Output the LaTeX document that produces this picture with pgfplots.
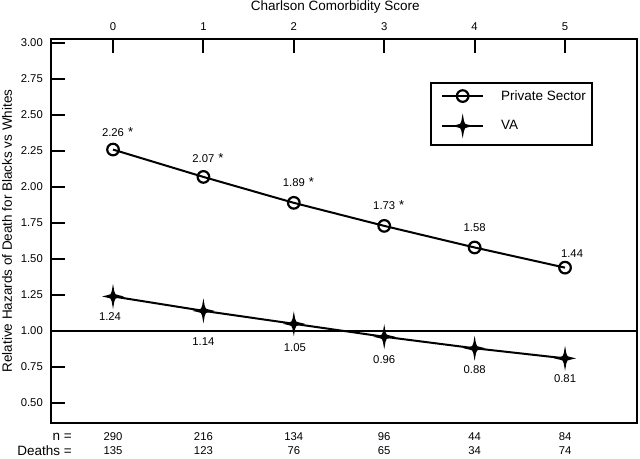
\documentclass[border=0pt]{standalone}
\usepackage{pgfplots}
\usepackage{pgfplotstable}
\pgfplotsset{compat=1.18}
\usepackage{fontspec}
\setmainfont{Liberation Sans}
\newcommand{\fs}{\fontsize{11.3}{13}\selectfont}
\newcommand{\fb}{\fontsize{13.5}{16}\selectfont}
\newcommand{\sig}{\rlap{\hspace{4pt}\fontsize{13}{13}\selectfont *}}
\pgfdeclareplotmark{vastar}{%
  \pgfpathmoveto{\pgfqpoint{0pt}{12.5pt}}%
  \pgfpathlineto{\pgfqpoint{1.3pt}{5pt}}%
  \pgfpathlineto{\pgfqpoint{2.5pt}{2.2pt}}%
  \pgfpathlineto{\pgfqpoint{5pt}{1.4pt}}%
  \pgfpathlineto{\pgfqpoint{11pt}{0pt}}%
  \pgfpathlineto{\pgfqpoint{5pt}{-1.4pt}}%
  \pgfpathlineto{\pgfqpoint{2.5pt}{-2.2pt}}%
  \pgfpathlineto{\pgfqpoint{1.3pt}{-5pt}}%
  \pgfpathlineto{\pgfqpoint{0pt}{-12.5pt}}%
  \pgfpathlineto{\pgfqpoint{-1.3pt}{-5pt}}%
  \pgfpathlineto{\pgfqpoint{-2.5pt}{-2.2pt}}%
  \pgfpathlineto{\pgfqpoint{-5pt}{-1.4pt}}%
  \pgfpathlineto{\pgfqpoint{-11pt}{0pt}}%
  \pgfpathlineto{\pgfqpoint{-5pt}{1.4pt}}%
  \pgfpathlineto{\pgfqpoint{-2.5pt}{2.2pt}}%
  \pgfpathlineto{\pgfqpoint{-1.3pt}{5pt}}%
  \pgfpathclose
  \pgfusepathqfill}
% x, value, label offsets (pt) and label text
\pgfplotstableread{
x y yo xo label
0 2.26 17 0 {2.26\sig}
1 2.07 19 0 {2.07\sig}
2 1.89 21 0 {1.89\sig}
3 1.73 21 0 {1.73\sig}
4 1.58 20 0 {1.58}
5 1.44 14 7 {1.44}
}\private
\pgfplotstableread{
x y yo xo label
0 1.24 -20 -3 {1.24}
1 1.14 -31 0 {1.14}
2 1.05 -24 1 {1.05}
3 0.96 -23 0 {0.96}
4 0.88 -21 0 {0.88}
5 0.81 -20 0 {0.81}
}\va
\begin{document}
\begin{tikzpicture}
\begin{axis}[
  scale only axis, width=586pt, height=384pt,
  xmin=-0.686, xmax=5.796, ymin=0.361, ymax=3.028,
  xtick={0,1,2,3,4,5}, xticklabels={0,1,2,3,4,5},
  ytick={0.5,0.75,1,1.25,1.5,1.75,2,2.25,2.5,2.75,3},
  yticklabels={0.50,0.75,1.00,1.25,1.50,1.75,2.00,2.25,2.50,2.75,3.00},
  xtick pos=upper, xticklabel pos=upper, ytick pos=left,
  tick align=inside, major tick length=14pt,
  axis line style={line width=2pt},
  every tick/.style={black, line width=2pt},
  xticklabel style={font=\fs, inner sep=0pt, anchor=south, yshift=8pt},
  yticklabel style={font=\fs, inner sep=0pt, anchor=east, xshift=-8pt},
  clip=false,
  legend style={at={(rel axis cs:0.6655,0.867)}, anchor=north west, draw=none,
    fill=none, font=\fb, inner xsep=0pt, inner ysep=0pt,
    row sep=11.6pt, column sep=17pt,
    nodes={inner sep=0pt}, cells={anchor=west}},
  legend image code/.code={\draw[mark repeat=2,mark phase=2,#1] plot coordinates {(0pt,0pt) (20.5pt,0pt) (41pt,0pt)};},
]
\draw[line width=2pt] (axis cs:-0.686,1) -- (axis cs:5.796,1);
% legend frame
\draw[line width=1.7pt] (rel axis cs:0.6485,0.724) rectangle (rel axis cs:0.9232,0.8854);
\addplot[black, line width=2pt, mark=o, mark size=5.8pt,
  mark options={fill=white, solid, line width=2.2pt},
  point meta=explicit symbolic, nodes near coords,
  visualization depends on={\thisrow{yo}\as\yo},
  visualization depends on={\thisrow{xo}\as\xo},
  every node near coord/.append style={font=\fs, inner sep=0pt, anchor=center,
    yshift=\yo pt, xshift=\xo pt}]
  table[x=x, y=y, meta=label] {\private};
\addlegendentry{Private Sector}
\addplot[black, line width=2pt, mark=vastar,
  mark options={fill=black, solid},
  point meta=explicit symbolic, nodes near coords,
  visualization depends on={\thisrow{yo}\as\yo},
  visualization depends on={\thisrow{xo}\as\xo},
  every node near coord/.append style={font=\fs, inner sep=0pt, anchor=center,
    yshift=\yo pt, xshift=\xo pt}]
  table[x=x, y=y, meta=label] {\va};
\addlegendentry{VA}
% sample size rows
\node[font=\fb, anchor=east, inner sep=0pt] at (axis cs:-0.4535,0.264) {n =};
\node[font=\fb, anchor=east, inner sep=0pt] at (axis cs:-0.4535,0.167) {Deaths =};
\node[font=\fs] at (axis cs:0,0.264) {290};
\node[font=\fs] at (axis cs:1,0.264) {216};
\node[font=\fs] at (axis cs:2,0.264) {134};
\node[font=\fs] at (axis cs:3,0.264) {96};
\node[font=\fs] at (axis cs:4,0.264) {44};
\node[font=\fs] at (axis cs:5,0.264) {84};
\node[font=\fs] at (axis cs:0,0.167) {135};
\node[font=\fs] at (axis cs:1,0.167) {123};
\node[font=\fs] at (axis cs:2,0.167) {76};
\node[font=\fs] at (axis cs:3,0.167) {65};
\node[font=\fs] at (axis cs:4,0.167) {34};
\node[font=\fs] at (axis cs:5,0.167) {74};
\coordinate (sw) at (rel axis cs:0,0);
\coordinate (ne) at (rel axis cs:1,1);
\coordinate (ylab) at (rel axis cs:0,0.5);
\coordinate (xlab) at (rel axis cs:0.485,1);
\end{axis}
\node[font=\fb, rotate=90] at ([xshift=-44pt]ylab) {Relative Hazards of Death for Blacks vs Whites};
\node[font=\fb] at ([yshift=32pt]xlab) {Charlson Comorbidity Score};
\pgfresetboundingbox
\path ([xshift=-51pt,yshift=-36pt]sw) rectangle ([xshift=3pt,yshift=39pt]ne);
\end{tikzpicture}
\end{document}
